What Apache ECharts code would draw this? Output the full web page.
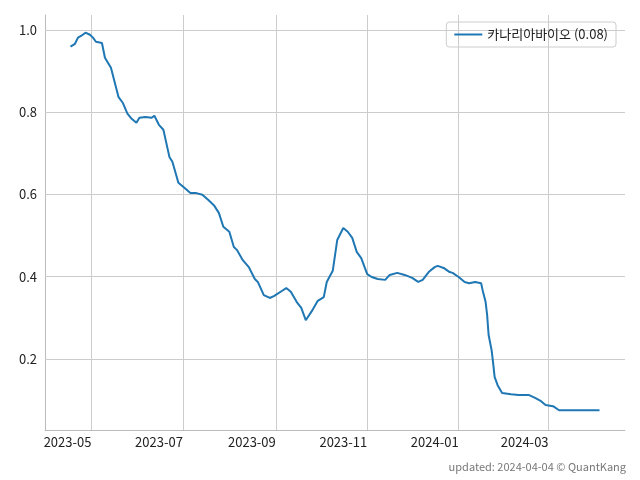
<!DOCTYPE html>
<html><head><meta charset="utf-8">
<script src="https://cdn.jsdelivr.net/npm/echarts@6/dist/echarts.min.js"></script>
<style>html,body{margin:0;background:#fff}#c{width:640px;height:480px}</style>
</head><body><div id="c"></div>
<script>
var seriesName = '카나리아바이오 (0.08)';
var dates = ['2023-04-17','2023-04-20','2023-04-22','2023-04-24','2023-04-27','2023-04-30','2023-05-02','2023-05-04','2023-05-08','2023-05-10','2023-05-14','2023-05-19','2023-05-22','2023-05-25','2023-05-28','2023-05-31','2023-06-02','2023-06-06','2023-06-10','2023-06-12','2023-06-15','2023-06-18','2023-06-22','2023-06-24','2023-06-28','2023-07-02','2023-07-06','2023-07-10','2023-07-14','2023-07-18','2023-07-22','2023-07-25','2023-07-28','2023-08-01','2023-08-04','2023-08-06','2023-08-10','2023-08-14','2023-08-18','2023-08-20','2023-08-24','2023-08-28','2023-08-31','2023-09-05','2023-09-08','2023-09-11','2023-09-15','2023-09-18','2023-09-21','2023-09-25','2023-09-29','2023-10-03','2023-10-05','2023-10-09','2023-10-12','2023-10-16','2023-10-19','2023-10-22','2023-10-25','2023-10-28','2023-11-01','2023-11-04','2023-11-08','2023-11-13','2023-11-16','2023-11-21','2023-11-26','2023-12-01','2023-12-05','2023-12-08','2023-12-12','2023-12-16','2023-12-18','2023-12-22','2023-12-26','2023-12-28','2024-01-01','2024-01-05','2024-01-08','2024-01-12','2024-01-16','2024-01-17','2024-01-19','2024-01-20','2024-01-21','2024-01-23','2024-01-24','2024-01-25','2024-01-27','2024-01-30','2024-02-05','2024-02-10','2024-02-17','2024-02-21','2024-02-25','2024-02-28','2024-03-04','2024-03-08','2024-03-12','2024-03-19','2024-04-04'];
var values = [.959,.966,.981,.985,.993,.988,.981,.971,.968,.932,.908,.837,.822,.796,.783,.774,.786,.788,.786,.791,.769,.757,.691,.679,.628,.616,.603,.603,.599,.586,.572,.555,.521,.509,.472,.465,.440,.423,.394,.387,.355,.348,.353,.365,.372,.363,.338,.324,.294,.316,.341,.350,.387,.414,.489,.518,.509,.494,.460,.445,.406,.399,.394,.392,.404,.409,.404,.397,.387,.392,.411,.423,.426,.421,.411,.409,.399,.387,.384,.387,.384,.367,.338,.307,.258,.221,.190,.156,.136,.117,.114,.112,.112,.105,.097,.088,.085,.075,.075,.075,.075];
var yTicks = [0.2, 0.4, 0.6, 0.8, 1.0];
var xTickMonths = ['2023-05-01','2023-07-01','2023-09-01','2023-11-01','2024-01-01','2024-03-01'];

function ts(d) { return +new Date(d + 'T00:00:00Z'); }
var chart = echarts.init(document.getElementById('c'), null, {renderer: 'canvas'});
var font = 'Noto Sans CJK KR';
var xTicks = xTickMonths.map(ts);
chart.setOption({
    animation: false,
    textStyle: {fontFamily: font},
    grid: {left: 45, right: 15, top: 15, bottom: 50},
    legend: {
        top: 22, right: 24, orient: 'vertical',
        borderColor: '#ccc', borderWidth: 1, borderRadius: 3, padding: [6, 8],
        itemWidth: 28, itemHeight: 2, icon: 'rect',
        textStyle: {fontSize: 13, color: '#222', fontFamily: font},
        data: [seriesName]
    },
    xAxis: {
        type: 'value',
        min: ts('2023-03-31'),
        max: ts('2024-04-21'),
        axisLine: {lineStyle: {color: '#bbb'}},
        axisTick: {show: false},
        splitLine: {show: false},
        axisLabel: {
            customValues: xTicks, color: '#222', fontSize: 13, align: 'right', margin: 6,
            formatter: function (v) { var d = new Date(v); return d.getUTCFullYear() + '-' + String(d.getUTCMonth() + 1).padStart(2, '0'); }
        }
    },
    yAxis: {
        type: 'value', min: 0.027, max: 1.036,
        axisLine: {show: true, lineStyle: {color: '#bbb'}},
        axisTick: {show: false},
        axisLabel: {customValues: yTicks, color: '#222', fontSize: 13, formatter: function (v) { return v.toFixed(1); }},
        splitLine: {show: false}
    },
    series: [{
        name: seriesName, type: 'line', showSymbol: false, z: 3,
        lineStyle: {color: '#1f77b4', width: 2}, itemStyle: {color: '#1f77b4'},
        data: dates.map(function (d, i) { return [ts(d), values[i]]; }),
        markLine: {
            silent: true, symbol: 'none', label: {show: false}, z: 1,
            lineStyle: {color: '#ccc', type: 'solid', width: 1},
            data: yTicks.map(function (v) { return {yAxis: v}; })
                .concat(xTicks.map(function (v) { return {xAxis: v}; }))
        }
    }],
    graphic: [{
        type: 'text', right: 14, bottom: 8,
        style: {text: 'updated: 2024-04-04 © QuantKang', fill: '#777', fontSize: 11, fontFamily: font}
    }]
});
</script></body></html>
